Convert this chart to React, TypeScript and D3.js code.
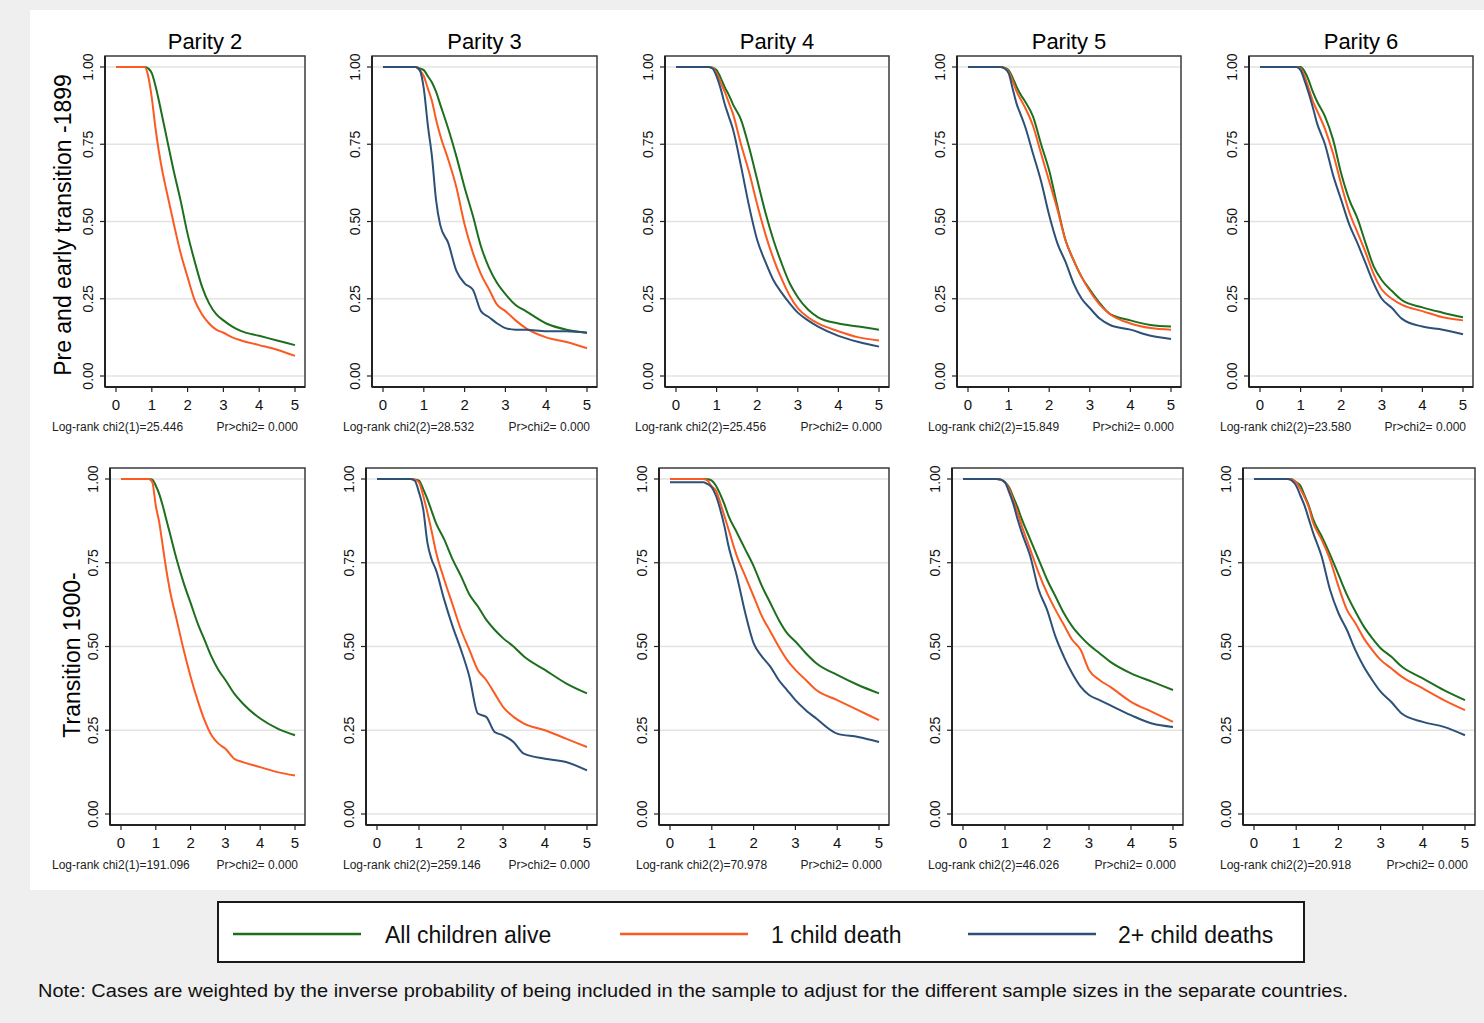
import React from "react";
import * as d3 from "d3";

// time since previous birth (years), shared by every curve
const times = [0, 0.8, 0.9, 1.0, 1.1, 1.2, 1.3, 1.4, 1.6, 1.8, 2.0, 2.2, 2.4, 2.6, 2.8, 3.0, 3.25, 3.5, 4.0, 4.5, 5.0];

const parities = ["Parity 2", "Parity 3", "Parity 4", "Parity 5", "Parity 6"];
const seriesNames = ["All children alive", "1 child death", "2+ child deaths"];
const yTicks = [0, 0.25, 0.5, 0.75, 1];
const xTicks = [0, 1, 2, 3, 4, 5];

// Pre and early transition -1899
const preP2Alive = [1, 1, 0.995, 0.98, 0.94, 0.89, 0.835, 0.78, 0.67, 0.57, 0.46, 0.37, 0.29, 0.235, 0.2, 0.18, 0.16, 0.145, 0.13, 0.115, 0.1];
const preP2One = [1, 1, 0.97, 0.9, 0.805, 0.725, 0.66, 0.605, 0.5, 0.4, 0.32, 0.245, 0.2, 0.17, 0.15, 0.14, 0.125, 0.115, 0.1, 0.085, 0.065];
const preP3Alive = [1, 1, 0.995, 0.99, 0.97, 0.95, 0.92, 0.88, 0.8, 0.71, 0.61, 0.52, 0.42, 0.35, 0.3, 0.265, 0.23, 0.21, 0.17, 0.15, 0.14];
const preP3One = [1, 1, 0.99, 0.97, 0.93, 0.89, 0.83, 0.78, 0.7, 0.61, 0.49, 0.4, 0.33, 0.28, 0.23, 0.21, 0.18, 0.155, 0.125, 0.11, 0.09];
const preP3Two = [1, 1, 0.99, 0.93, 0.81, 0.71, 0.57, 0.49, 0.43, 0.34, 0.3, 0.28, 0.21, 0.19, 0.17, 0.155, 0.15, 0.15, 0.145, 0.145, 0.14];
const preP4Alive = [1, 1, 0.998, 0.99, 0.965, 0.935, 0.91, 0.88, 0.83, 0.74, 0.635, 0.53, 0.44, 0.365, 0.3, 0.255, 0.215, 0.19, 0.17, 0.16, 0.15];
const preP4One = [1, 1, 0.997, 0.98, 0.95, 0.92, 0.885, 0.85, 0.75, 0.66, 0.555, 0.46, 0.38, 0.315, 0.26, 0.22, 0.19, 0.17, 0.145, 0.125, 0.115];
const preP4Two = [1, 1, 0.995, 0.97, 0.93, 0.88, 0.84, 0.8, 0.68, 0.55, 0.44, 0.37, 0.31, 0.27, 0.235, 0.205, 0.18, 0.16, 0.13, 0.11, 0.095];
const preP5Alive = [1, 1, 0.998, 0.99, 0.965, 0.935, 0.91, 0.89, 0.84, 0.75, 0.665, 0.55, 0.44, 0.375, 0.32, 0.28, 0.235, 0.2, 0.18, 0.165, 0.16];
const preP5One = [1, 1, 0.997, 0.985, 0.955, 0.92, 0.895, 0.87, 0.81, 0.72, 0.63, 0.54, 0.44, 0.375, 0.32, 0.275, 0.23, 0.2, 0.17, 0.155, 0.15];
const preP5Two = [1, 1, 0.995, 0.98, 0.93, 0.88, 0.845, 0.81, 0.72, 0.63, 0.52, 0.43, 0.37, 0.3, 0.25, 0.22, 0.185, 0.165, 0.15, 0.13, 0.12];
const preP6Alive = [1, 1, 1, 1, 0.985, 0.957, 0.92, 0.89, 0.84, 0.765, 0.655, 0.57, 0.51, 0.43, 0.355, 0.31, 0.275, 0.245, 0.222, 0.205, 0.19];
const preP6One = [1, 1, 1, 0.995, 0.97, 0.93, 0.89, 0.86, 0.8, 0.72, 0.62, 0.53, 0.465, 0.4, 0.33, 0.28, 0.25, 0.23, 0.21, 0.19, 0.18];
const preP6Two = [1, 1, 1, 0.99, 0.955, 0.915, 0.87, 0.82, 0.75, 0.65, 0.57, 0.49, 0.43, 0.365, 0.3, 0.25, 0.22, 0.185, 0.16, 0.15, 0.135];

// Transition 1900-
const postP2Alive = [1, 1, 0.998, 0.98, 0.955, 0.92, 0.88, 0.84, 0.76, 0.69, 0.63, 0.57, 0.52, 0.47, 0.43, 0.4, 0.36, 0.33, 0.285, 0.255, 0.235];
const postP2One = [1, 1, 0.99, 0.92, 0.87, 0.8, 0.73, 0.67, 0.58, 0.49, 0.41, 0.34, 0.28, 0.235, 0.21, 0.195, 0.165, 0.155, 0.14, 0.125, 0.115];
const postP3Alive = [1, 1, 0.998, 0.995, 0.97, 0.94, 0.905, 0.87, 0.82, 0.76, 0.71, 0.655, 0.62, 0.58, 0.55, 0.525, 0.5, 0.47, 0.43, 0.39, 0.36];
const postP3One = [1, 1, 0.998, 0.99, 0.95, 0.9, 0.845, 0.785, 0.7, 0.625, 0.55, 0.49, 0.43, 0.4, 0.36, 0.32, 0.29, 0.27, 0.25, 0.225, 0.2];
const postP3Two = [1, 1, 0.995, 0.96, 0.91, 0.81, 0.76, 0.73, 0.64, 0.56, 0.49, 0.41, 0.3, 0.29, 0.245, 0.235, 0.215, 0.18, 0.165, 0.155, 0.13];
const postP4Alive = [1, 1, 0.999, 0.995, 0.98, 0.955, 0.925, 0.89, 0.84, 0.79, 0.74, 0.68, 0.63, 0.58, 0.54, 0.515, 0.48, 0.45, 0.415, 0.385, 0.36];
const postP4One = [1, 1, 0.995, 0.978, 0.965, 0.93, 0.89, 0.85, 0.77, 0.71, 0.65, 0.59, 0.545, 0.5, 0.46, 0.43, 0.4, 0.37, 0.34, 0.31, 0.28];
const postP4Two = [0.99, 0.99, 0.985, 0.975, 0.95, 0.91, 0.86, 0.8, 0.71, 0.6, 0.51, 0.47, 0.44, 0.4, 0.37, 0.34, 0.31, 0.285, 0.24, 0.23, 0.215];
const postP5Alive = [1, 1, 0.998, 0.99, 0.975, 0.945, 0.915, 0.88, 0.82, 0.76, 0.7, 0.65, 0.6, 0.56, 0.53, 0.505, 0.48, 0.455, 0.42, 0.395, 0.37];
const postP5One = [1, 1, 0.998, 0.99, 0.97, 0.935, 0.9, 0.86, 0.79, 0.72, 0.66, 0.61, 0.565, 0.52, 0.49, 0.43, 0.4, 0.38, 0.335, 0.305, 0.275];
const postP5Two = [1, 1, 0.998, 0.99, 0.96, 0.925, 0.88, 0.84, 0.77, 0.67, 0.61, 0.53, 0.47, 0.42, 0.38, 0.355, 0.34, 0.325, 0.295, 0.27, 0.26];
const postP6Alive = [1, 1, 0.999, 0.99, 0.98, 0.95, 0.92, 0.88, 0.83, 0.775, 0.715, 0.655, 0.605, 0.56, 0.525, 0.495, 0.47, 0.44, 0.405, 0.37, 0.34];
const postP6One = [1, 1, 0.998, 0.99, 0.97, 0.945, 0.915, 0.87, 0.82, 0.76, 0.68, 0.61, 0.57, 0.525, 0.49, 0.46, 0.435, 0.41, 0.375, 0.34, 0.31];
const postP6Two = [1, 1, 0.995, 0.98, 0.95, 0.92, 0.88, 0.84, 0.77, 0.67, 0.6, 0.55, 0.49, 0.44, 0.4, 0.365, 0.335, 0.3, 0.275, 0.26, 0.235];

const preLogRank = ["Log-rank chi2(1)=25.446", "Log-rank chi2(2)=28.532", "Log-rank chi2(2)=25.456", "Log-rank chi2(2)=15.849", "Log-rank chi2(2)=23.580"];
const postLogRank = ["Log-rank chi2(1)=191.096", "Log-rank chi2(2)=259.146", "Log-rank chi2(2)=70.978", "Log-rank chi2(2)=46.026", "Log-rank chi2(2)=20.918"];
const prLabel = "Pr>chi2= 0.000";

const noteText =
  "Note: Cases are weighted by the inverse probability of being included in the sample to adjust for the different sample sizes in the separate countries.";

const colors = ["#1d6f1d", "#fb5a22", "#2c5078"];
const font = "'Liberation Sans', Arial, sans-serif";

const preCurves = [
  [preP2Alive, preP2One],
  [preP3Alive, preP3One, preP3Two],
  [preP4Alive, preP4One, preP4Two],
  [preP5Alive, preP5One, preP5Two],
  [preP6Alive, preP6One, preP6Two],
];
const postCurves = [
  [postP2Alive, postP2One],
  [postP3Alive, postP3One, postP3Two],
  [postP4Alive, postP4One, postP4Two],
  [postP5Alive, postP5One, postP5Two],
  [postP6Alive, postP6One, postP6Two],
];

const rows = [
  {
    title: "Pre and early transition -1899",
    curves: preCurves,
    stats: preLogRank,
    frameTop: 56,
    frameBottom: 387,
    lefts: [105, 372, 665, 957, 1249],
    rights: [305, 597, 889, 1181, 1473],
    statX: [52, 343, 635, 928, 1220],
    titleX: 71,
    titleY: 225,
    showParity: true,
  },
  {
    title: "Transition 1900-",
    curves: postCurves,
    stats: postLogRank,
    frameTop: 468,
    frameBottom: 825,
    lefts: [110, 366, 659, 952, 1243],
    rights: [305, 597, 889, 1183, 1475],
    statX: [52, 343, 636, 928, 1220],
    titleX: 80,
    titleY: 655,
    showParity: false,
  },
];

function Panel({ row, i }: { row: any; i: number }) {
  const left = row.lefts[i];
  const right = row.rights[i];
  const top = row.frameTop;
  const bottom = row.frameBottom;
  const x = d3.scaleLinear().domain([0, 5]).range([left + 11, right - 10]);
  const y = d3.scaleLinear().domain([0, 1]).range([bottom - 11, top + 11]);
  const line = d3
    .line<number>()
    .x((_, k) => x(times[k]))
    .y((d) => y(d))
    .curve(d3.curveMonotoneX);

  return (
    <g>
      {row.showParity && (
        <text x={(left + right) / 2} y={49} textAnchor="middle" fontSize={22} fontFamily={font}>
          {parities[i]}
        </text>
      )}
      {yTicks.map((t) => (
        <line key={"g" + t} x1={left} x2={right} y1={y(t)} y2={y(t)} stroke="#e3e3e3" strokeWidth={1.5} />
      ))}
      {row.curves[i].map((vals: number[], s: number) => (
        <path key={s} d={line(vals) || ""} fill="none" stroke={colors[s]} strokeWidth={2} />
      ))}
      <rect x={left} y={top} width={right - left} height={bottom - top} fill="none" stroke="#3a3a3a" strokeWidth={1.5} />
      <line x1={left} x2={left} y1={top} y2={bottom} stroke="#222" strokeWidth={2} />
      <line x1={left} x2={right} y1={bottom} y2={bottom} stroke="#222" strokeWidth={2} />
      {yTicks.map((t) => (
        <g key={"y" + t}>
          <line x1={left - 5} x2={left} y1={y(t)} y2={y(t)} stroke="#222" strokeWidth={1.2} />
          <text
            transform={`translate(${left - 12},${y(t)}) rotate(-90)`}
            textAnchor="middle"
            fontSize={14}
            fontFamily={font}
            fill="#111"
          >
            {d3.format(".2f")(t)}
          </text>
        </g>
      ))}
      {xTicks.map((t) => (
        <g key={"x" + t}>
          <line x1={x(t)} x2={x(t)} y1={bottom} y2={bottom + 5} stroke="#222" strokeWidth={1.2} />
          <text x={x(t)} y={bottom + 23} textAnchor="middle" fontSize={15} fontFamily={font} fill="#111">
            {t}
          </text>
        </g>
      ))}
      <text x={row.statX[i]} y={bottom + 44} fontSize={12} fontFamily={font} fill="#222">
        {row.stats[i]}
      </text>
      <text x={x(5) + 3} y={bottom + 44} textAnchor="end" fontSize={12} fontFamily={font} fill="#222">
        {prLabel}
      </text>
    </g>
  );
}

const legendItems = [
  { lineX: 233, textX: 385 },
  { lineX: 620, textX: 771 },
  { lineX: 968, textX: 1118 },
];

export default function App() {
  return (
    <div style={{ position: "absolute", left: 0, top: 0 }}>
      <svg width={1484} height={1023} style={{ display: "block" }}>
        <rect x={0} y={0} width={1484} height={1023} fill="#efefef" />
        <rect x={30} y={10} width={1454} height={880} fill="#ffffff" />
        {rows.map((row, r) => (
          <g key={r}>
            <text
              transform={`translate(${row.titleX},${row.titleY}) rotate(-90)`}
              textAnchor="middle"
              fontSize={23}
              fontFamily={font}
              fill="#000"
            >
              {row.title}
            </text>
            {parities.map((_, i) => (
              <Panel key={i} row={row} i={i} />
            ))}
          </g>
        ))}
        <rect x={218} y={902} width={1086} height={60} fill="#fff" stroke="#1a1a1a" strokeWidth={2} />
        {seriesNames.map((name, s) => (
          <g key={name}>
            <line
              x1={legendItems[s].lineX}
              x2={legendItems[s].lineX + 128}
              y1={934}
              y2={934}
              stroke={colors[s]}
              strokeWidth={2.5}
            />
            <text x={legendItems[s].textX} y={943} fontSize={23} fontFamily={font} fill="#111">
              {name}
            </text>
          </g>
        ))}
        <text x={38} y={997} fontSize={18} fontFamily={font} fill="#111" textLength={1310} lengthAdjust="spacingAndGlyphs">
          {noteText}
        </text>
      </svg>
    </div>
  );
}
